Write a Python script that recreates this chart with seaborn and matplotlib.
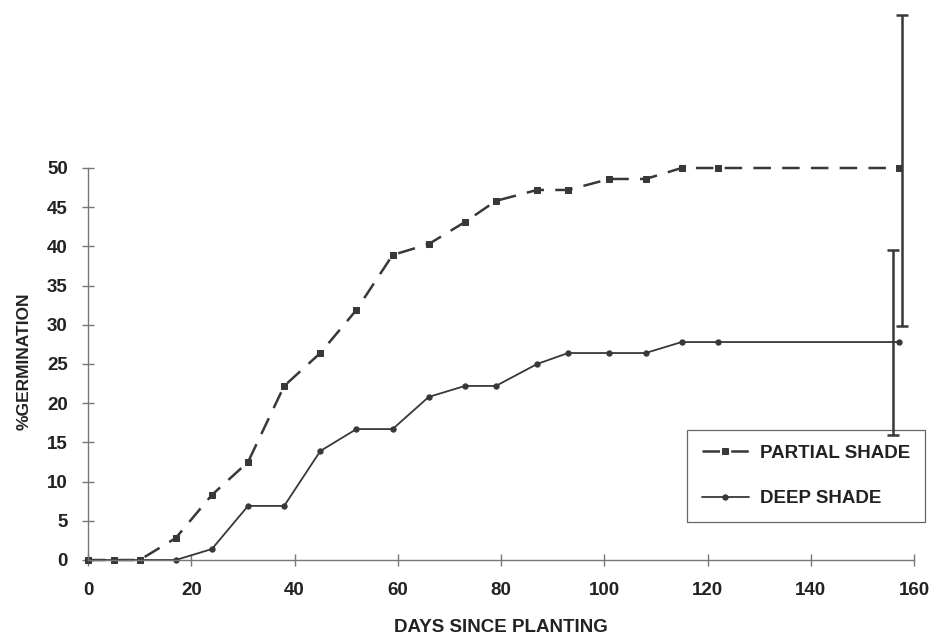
import numpy as np
import pandas as pd
import matplotlib
matplotlib.use("Agg")
import matplotlib.pyplot as plt
import seaborn as sns

# -----------------------------
# DATA
# -----------------------------
days = [0, 5, 10, 17, 24, 31, 38, 45, 52, 59, 66, 73, 79, 87, 93, 101, 108, 115, 122, 157]
partial_shade = [0, 0, 0, 2.8, 8.3, 12.5, 22.2, 26.4, 31.9, 38.9, 40.3, 43.1, 45.8,
                 47.2, 47.2, 48.6, 48.6, 50.0, 50.0, 50.0]
deep_shade = [0, 0, 0, 0, 1.4, 6.9, 6.9, 13.9, 16.7, 16.7, 20.8, 22.2, 22.2,
              25.0, 26.4, 26.4, 26.4, 27.8, 27.8, 27.8]

# final-day error bars (partial, deep)
err_day = [157.7, 155.9]
err_mean = [49.7, 27.8]
err_sd = [19.8, 11.8]

x_ticks = [0, 20, 40, 60, 80, 100, 120, 140, 160]
y_ticks = [0, 5, 10, 15, 20, 25, 30, 35, 40, 45, 50]

# -----------------------------
# STYLE
# -----------------------------
sns.set_style("ticks")
plt.rcParams['font.family'] = ['Liberation Sans', 'DejaVu Sans']
LINE = "#383838"
AXIS = "#777777"
TEXT = "#222222"
FS = 13.5

fig = plt.figure(figsize=(9.35, 6.35), dpi=100)
ax = fig.add_axes([88 / 935, 75 / 635, 826 / 935, 392 / 635])

df_p = pd.DataFrame({"day": days, "pct": partial_shade})
df_d = pd.DataFrame({"day": days, "pct": deep_shade})

sns.lineplot(data=df_p, x="day", y="pct", ax=ax, color=LINE, lw=1.8,
             marker="s", markersize=3.8, markeredgecolor=LINE,
             label="PARTIAL SHADE")
sns.lineplot(data=df_d, x="day", y="pct", ax=ax, color=LINE, lw=1.3,
             marker="o", markersize=3.8, markeredgecolor=LINE,
             label="DEEP SHADE")
ax.lines[0].set_linestyle((0, (7, 4.5)))
for ln in ax.lines:
    ln.set_clip_on(False)

# error bars at the last observation, drawn above the legend box
eb = ax.errorbar(err_day, err_mean, yerr=err_sd, fmt="none", ecolor=LINE,
                 elinewidth=1.8, capsize=4.5, capthick=1.8, zorder=6)
for part in list(eb.lines[1]) + list(eb.lines[2]):
    part.set_clip_on(False)

ax.set_xlim(0, 160)
ax.set_ylim(0, 50)
ax.set_xticks(x_ticks)
ax.set_yticks(y_ticks)
ax.tick_params(axis="both", direction="inout", length=8, width=1, color=AXIS,
               labelsize=FS, labelcolor=TEXT)
ax.tick_params(axis="x", pad=12)
ax.tick_params(axis="y", pad=10.5)
for lab in ax.get_xticklabels() + ax.get_yticklabels():
    lab.set_fontweight("bold")

sns.despine(ax=ax)
for side in ["left", "bottom"]:
    ax.spines[side].set_color(AXIS)
    ax.spines[side].set_linewidth(1)

ax.set_xlabel("DAYS SINCE PLANTING", fontsize=FS, fontweight="bold", color=TEXT)
ax.set_ylabel("%GERMINATION", fontsize=12.5, fontweight="bold", color=TEXT)
ax.xaxis.label.set_va("center")
ax.yaxis.label.set_va("center")
ax.xaxis.set_label_coords(0.5, -0.171)
ax.yaxis.set_label_coords(-0.0775, 0.508)

leg = ax.legend(loc="upper left", bbox_to_anchor=(0.725, 0.332), fontsize=FS,
                frameon=True, fancybox=False, framealpha=1, edgecolor="#666666",
                borderpad=0.8, labelspacing=1.5, handlelength=2.5,
                handletextpad=0.6, borderaxespad=0)
leg.get_frame().set_linewidth(0.9)
leg.set_zorder(5)
for t in leg.get_texts():
    t.set_fontweight("bold")
    t.set_color(TEXT)

fig.savefig("out.png", dpi=100)
